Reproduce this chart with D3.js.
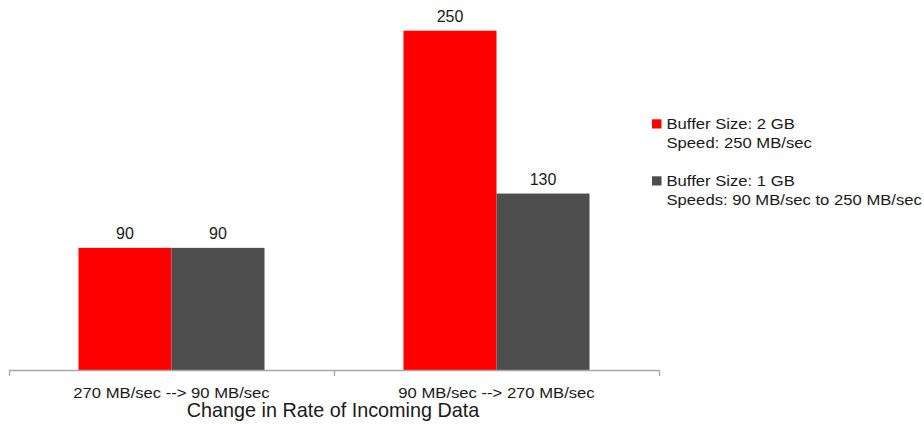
<!DOCTYPE html>
<html>
<head>
<meta charset="utf-8">
<script src="https://cdn.jsdelivr.net/npm/d3@7"></script>
<style>
  html, body { margin: 0; padding: 0; background: #fff; }
  svg { display: block; font-family: "Liberation Sans", Arial, sans-serif; }
</style>
</head>
<body>
<svg id="chart" width="924" height="429"></svg>
<script>
const categories = ["270 MB/sec --> 90 MB/sec", "90 MB/sec --> 270 MB/sec"];
const seriesNames = ["Buffer Size: 2 GB", "Buffer Size: 1 GB"];
const seriesSubtitles = ["Speed: 250 MB/sec", "Speeds: 90 MB/sec to 250 MB/sec"];
const seriesColors = ["#ff0000", "#4d4d4d"];
const buffer2GB = [90, 250];
const buffer1GB = [90, 130];
const xAxisTitle = "Change in Rate of Incoming Data";

const seriesValues = [buffer2GB, buffer1GB];

const svg = d3.select("#chart");
const axisLeft = 9, axisRight = 659, baseline = 370;

const x0 = d3.scaleBand().domain(categories).range([axisLeft, axisRight]).paddingInner(0).paddingOuter(0);
const x1 = d3.scaleBand().domain(d3.range(seriesNames.length)).range([0, x0.bandwidth()]).paddingInner(0).paddingOuter(0.747);
const y = d3.scaleLinear().domain([0, 250]).range([baseline, 30.7]);

// bars
categories.forEach((cat, ci) => {
  const g = svg.append("g").attr("transform", `translate(${x0(cat)},0)`);
  seriesValues.forEach((vals, si) => {
    g.append("rect")
      .attr("x", x1(si))
      .attr("y", y(vals[ci]))
      .attr("width", x1.bandwidth())
      .attr("height", baseline - y(vals[ci]))
      .attr("fill", seriesColors[si]);
    g.append("text")
      .attr("x", x1(si) + x1.bandwidth() / 2)
      .attr("y", y(vals[ci]) - 9)
      .attr("text-anchor", "middle")
      .attr("font-size", 16)
      .attr("fill", "#1a1a1a")
      .text(vals[ci]);
  });
});

// x axis
const ax = svg.append("g").attr("transform", `translate(0,${baseline})`);
ax.append("line").attr("x1", axisLeft).attr("x2", axisRight).attr("y1", 0.5).attr("y2", 0.5)
  .attr("stroke", "#a6a6a6").attr("stroke-width", 1.3);
const tickPositions = [axisLeft, ...categories.slice(1).map(c => x0(c)), axisRight];
tickPositions.forEach(tx => {
  ax.append("line").attr("x1", Math.round(tx) + 0.5).attr("x2", Math.round(tx) + 0.5)
    .attr("y1", 0).attr("y2", 6).attr("stroke", "#a6a6a6").attr("stroke-width", 1.3);
});
categories.forEach(cat => {
  const cx = x0(cat) + x0.bandwidth() / 2;
  ax.append("text")
    .attr("transform", `translate(${cx},28) scale(1.08,1)`)
    .attr("text-anchor", "middle")
    .attr("font-size", 15.4)
    .attr("fill", "#1a1a1a")
    .text(cat);
});

svg.append("text")
  .attr("x", 333)
  .attr("y", 417)
  .attr("text-anchor", "middle")
  .attr("font-size", 19.8)
  .attr("fill", "#1a1a1a")
  .text(xAxisTitle);

// legend
const legendTops = [119.3, 176.3];
seriesNames.forEach((name, i) => {
  const lg = svg.append("g").attr("transform", `translate(652,${legendTops[i]})`);
  lg.append("rect").attr("width", 9.5).attr("height", 9.2).attr("fill", seriesColors[i]);
  lg.append("text").attr("transform", "translate(14.5,10) scale(1.19,1)")
    .attr("font-size", 14).attr("fill", "#1a1a1a").text(name);
  lg.append("text").attr("transform", "translate(14.5,29) scale(1.19,1)")
    .attr("font-size", 14).attr("fill", "#1a1a1a").text(seriesSubtitles[i]);
});
</script>
</body>
</html>
